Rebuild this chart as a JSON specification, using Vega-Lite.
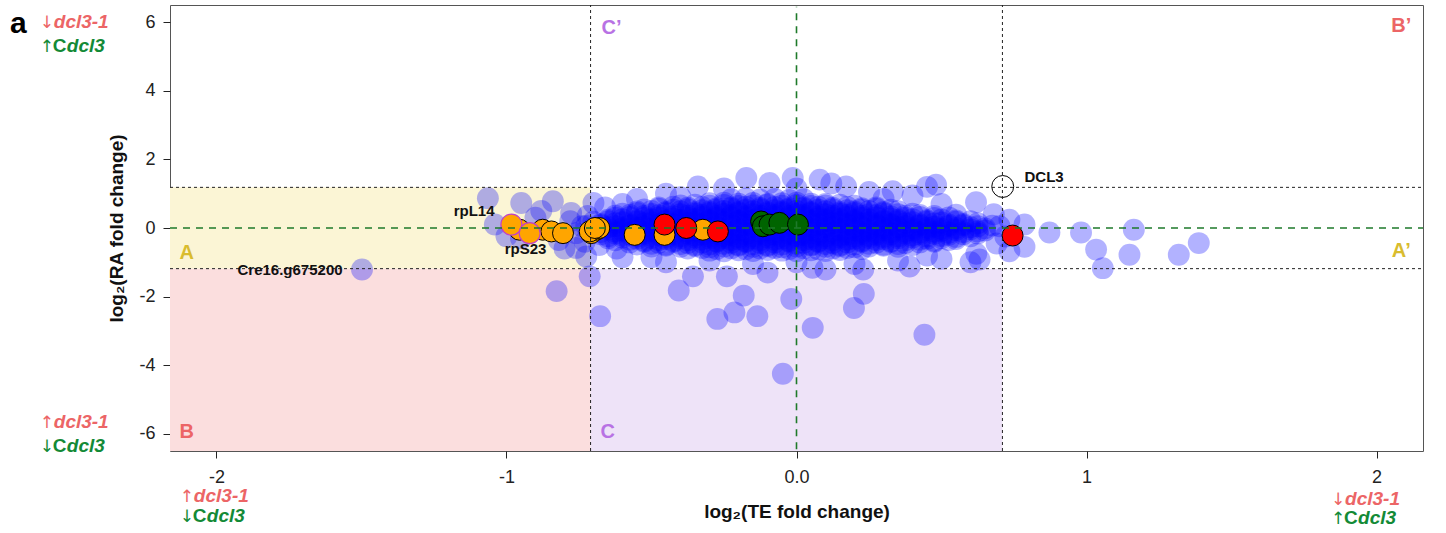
{
"$schema":"https://vega.github.io/schema/vega-lite/v6.json",
"width":1253,"height":446,
"autosize":{"type":"none"},
"padding":{"left":170,"top":5,"right":23,"bottom":82},
"config":{"view":{"stroke":"#555","strokeWidth":1},"font":"Liberation Sans","text":{"font":"Liberation Sans"}},
"datasets":{
"regions":[{"r":"A","x":-2.16,"x2":-0.71,"y":-1.185,"y2":1.185},{"r":"B","x":-2.16,"x2":-0.71,"y":-6.5,"y2":-1.185},{"r":"C","x":-0.71,"x2":0.71,"y":-6.5,"y2":-1.185}],
"blue":[
{"x":-0.3,"y":0.72},{"x":-0.25,"y":0.74},{"x":-0.2,"y":0.71},{"x":-0.15,"y":0.73},{"x":-0.1,"y":0.7},{"x":-0.05,"y":0.72},{"x":0,"y":0.74},{"x":0.05,"y":0.71},{"x":0.1,"y":0.7},
{"x":-0.475,"y":0.6},{"x":-0.425,"y":0.62},{"x":-0.375,"y":0.59},{"x":-0.325,"y":0.61},{"x":-0.275,"y":0.58},{"x":-0.225,"y":0.6},{"x":-0.175,"y":0.62},{"x":-0.125,"y":0.59},{"x":-0.075,"y":0.61},{"x":-0.025,"y":0.58},{"x":0.025,"y":0.6},{"x":0.075,"y":0.62},{"x":0.125,"y":0.59},{"x":0.175,"y":0.61},{"x":0.225,"y":0.58},{"x":0.275,"y":0.6},
{"x":-0.55,"y":0.48},{"x":-0.5,"y":0.5},{"x":-0.45,"y":0.47},{"x":-0.4,"y":0.49},{"x":-0.35,"y":0.46},{"x":-0.3,"y":0.48},{"x":-0.25,"y":0.5},{"x":-0.2,"y":0.47},{"x":-0.15,"y":0.49},{"x":-0.1,"y":0.46},{"x":-0.05,"y":0.48},{"x":0,"y":0.5},{"x":0.05,"y":0.47},{"x":0.1,"y":0.49},{"x":0.15,"y":0.46},{"x":0.2,"y":0.48},{"x":0.25,"y":0.5},{"x":0.3,"y":0.47},{"x":0.35,"y":0.49},
{"x":-0.625,"y":0.36},{"x":-0.575,"y":0.38},{"x":-0.525,"y":0.35},{"x":-0.475,"y":0.37},{"x":-0.425,"y":0.34},{"x":-0.375,"y":0.36},{"x":-0.325,"y":0.38},{"x":-0.275,"y":0.35},{"x":-0.225,"y":0.37},{"x":-0.175,"y":0.34},{"x":-0.125,"y":0.36},{"x":-0.075,"y":0.38},{"x":-0.025,"y":0.35},{"x":0.025,"y":0.37},{"x":0.075,"y":0.34},{"x":0.125,"y":0.36},{"x":0.175,"y":0.38},{"x":0.225,"y":0.35},{"x":0.275,"y":0.37},{"x":0.325,"y":0.34},{"x":0.375,"y":0.36},{"x":0.425,"y":0.38},{"x":0.475,"y":0.35},
{"x":-0.65,"y":0.24},{"x":-0.6,"y":0.26},{"x":-0.55,"y":0.23},{"x":-0.5,"y":0.25},{"x":-0.45,"y":0.22},{"x":-0.4,"y":0.24},{"x":-0.35,"y":0.26},{"x":-0.3,"y":0.23},{"x":-0.25,"y":0.25},{"x":-0.2,"y":0.22},{"x":-0.15,"y":0.24},{"x":-0.1,"y":0.26},{"x":-0.05,"y":0.23},{"x":0,"y":0.25},{"x":0.05,"y":0.22},{"x":0.1,"y":0.24},{"x":0.15,"y":0.26},{"x":0.2,"y":0.23},{"x":0.25,"y":0.25},{"x":0.3,"y":0.22},{"x":0.35,"y":0.24},{"x":0.4,"y":0.26},{"x":0.45,"y":0.23},{"x":0.5,"y":0.25},{"x":0.55,"y":0.22},
{"x":-0.675,"y":0.12},{"x":-0.625,"y":0.14},{"x":-0.575,"y":0.11},{"x":-0.525,"y":0.13},{"x":-0.475,"y":0.1},{"x":-0.425,"y":0.12},{"x":-0.375,"y":0.14},{"x":-0.325,"y":0.11},{"x":-0.275,"y":0.13},{"x":-0.225,"y":0.1},{"x":-0.175,"y":0.12},{"x":-0.125,"y":0.14},{"x":-0.075,"y":0.11},{"x":-0.025,"y":0.13},{"x":0.025,"y":0.1},{"x":0.075,"y":0.12},{"x":0.125,"y":0.14},{"x":0.175,"y":0.11},{"x":0.225,"y":0.13},{"x":0.275,"y":0.1},{"x":0.325,"y":0.12},{"x":0.375,"y":0.14},{"x":0.425,"y":0.11},{"x":0.475,"y":0.13},{"x":0.525,"y":0.1},{"x":0.575,"y":0.12},{"x":0.625,"y":0.14},
{"x":-0.7,"y":0},{"x":-0.65,"y":0.02},{"x":-0.6,"y":-0.01},{"x":-0.55,"y":0.01},{"x":-0.5,"y":-0.02},{"x":-0.45,"y":0},{"x":-0.4,"y":0.02},{"x":-0.35,"y":-0.01},{"x":-0.3,"y":0.01},{"x":-0.25,"y":-0.02},{"x":-0.2,"y":0},{"x":-0.15,"y":0.02},{"x":-0.1,"y":-0.01},{"x":-0.05,"y":0.01},{"x":0,"y":-0.02},{"x":0.05,"y":0},{"x":0.1,"y":0.02},{"x":0.15,"y":-0.01},{"x":0.2,"y":0.01},{"x":0.25,"y":-0.02},{"x":0.3,"y":0},{"x":0.35,"y":0.02},{"x":0.4,"y":-0.01},{"x":0.45,"y":0.01},{"x":0.5,"y":-0.02},{"x":0.55,"y":0},{"x":0.6,"y":0.02},{"x":0.65,"y":-0.01},
{"x":-0.675,"y":-0.12},{"x":-0.625,"y":-0.1},{"x":-0.575,"y":-0.13},{"x":-0.525,"y":-0.11},{"x":-0.475,"y":-0.14},{"x":-0.425,"y":-0.12},{"x":-0.375,"y":-0.1},{"x":-0.325,"y":-0.13},{"x":-0.275,"y":-0.11},{"x":-0.225,"y":-0.14},{"x":-0.175,"y":-0.12},{"x":-0.125,"y":-0.1},{"x":-0.075,"y":-0.13},{"x":-0.025,"y":-0.11},{"x":0.025,"y":-0.14},{"x":0.075,"y":-0.12},{"x":0.125,"y":-0.1},{"x":0.175,"y":-0.13},{"x":0.225,"y":-0.11},{"x":0.275,"y":-0.14},{"x":0.325,"y":-0.12},{"x":0.375,"y":-0.1},{"x":0.425,"y":-0.13},{"x":0.475,"y":-0.11},{"x":0.525,"y":-0.14},{"x":0.575,"y":-0.12},{"x":0.625,"y":-0.1},
{"x":-0.65,"y":-0.24},{"x":-0.6,"y":-0.22},{"x":-0.55,"y":-0.25},{"x":-0.5,"y":-0.23},{"x":-0.45,"y":-0.26},{"x":-0.4,"y":-0.24},{"x":-0.35,"y":-0.22},{"x":-0.3,"y":-0.25},{"x":-0.25,"y":-0.23},{"x":-0.2,"y":-0.26},{"x":-0.15,"y":-0.24},{"x":-0.1,"y":-0.22},{"x":-0.05,"y":-0.25},{"x":0,"y":-0.23},{"x":0.05,"y":-0.26},{"x":0.1,"y":-0.24},{"x":0.15,"y":-0.22},{"x":0.2,"y":-0.25},{"x":0.25,"y":-0.23},{"x":0.3,"y":-0.26},{"x":0.35,"y":-0.24},{"x":0.4,"y":-0.22},{"x":0.45,"y":-0.25},{"x":0.5,"y":-0.23},{"x":0.55,"y":-0.26},{"x":0.6,"y":-0.24},
{"x":-0.625,"y":-0.36},{"x":-0.575,"y":-0.34},{"x":-0.525,"y":-0.37},{"x":-0.475,"y":-0.35},{"x":-0.425,"y":-0.38},{"x":-0.375,"y":-0.36},{"x":-0.325,"y":-0.34},{"x":-0.275,"y":-0.37},{"x":-0.225,"y":-0.35},{"x":-0.175,"y":-0.38},{"x":-0.125,"y":-0.36},{"x":-0.075,"y":-0.34},{"x":-0.025,"y":-0.37},{"x":0.025,"y":-0.35},{"x":0.075,"y":-0.38},{"x":0.125,"y":-0.36},{"x":0.175,"y":-0.34},{"x":0.225,"y":-0.37},{"x":0.275,"y":-0.35},{"x":0.325,"y":-0.38},{"x":0.375,"y":-0.36},{"x":0.425,"y":-0.34},{"x":0.475,"y":-0.37},{"x":0.525,"y":-0.35},
{"x":-0.55,"y":-0.48},{"x":-0.5,"y":-0.46},{"x":-0.45,"y":-0.49},{"x":-0.4,"y":-0.47},{"x":-0.35,"y":-0.5},{"x":-0.3,"y":-0.48},{"x":-0.25,"y":-0.46},{"x":-0.2,"y":-0.49},{"x":-0.15,"y":-0.47},{"x":-0.1,"y":-0.5},{"x":-0.05,"y":-0.48},{"x":0,"y":-0.46},{"x":0.05,"y":-0.49},{"x":0.1,"y":-0.47},{"x":0.15,"y":-0.5},{"x":0.2,"y":-0.48},{"x":0.25,"y":-0.46},{"x":0.3,"y":-0.49},{"x":0.35,"y":-0.47},{"x":0.4,"y":-0.5},
{"x":-0.375,"y":-0.6},{"x":-0.325,"y":-0.58},{"x":-0.275,"y":-0.61},{"x":-0.225,"y":-0.59},{"x":-0.175,"y":-0.62},{"x":-0.125,"y":-0.6},{"x":-0.075,"y":-0.58},{"x":-0.025,"y":-0.61},{"x":0.025,"y":-0.59},{"x":0.075,"y":-0.62},{"x":0.125,"y":-0.6},{"x":0.175,"y":-0.58},{"x":0.225,"y":-0.61},
{"x":-1.064,"y":0.87},{"x":-0.949,"y":0.73},{"x":-1.04,"y":0.1},{"x":-1.0,"y":-0.24},{"x":-0.84,"y":0.78},{"x":-0.777,"y":0.44},{"x":-0.7,"y":0.73},{"x":-0.76,"y":-0.58},{"x":-0.9,"y":0.3},{"x":-0.82,"y":-0.35},{"x":-0.95,"y":-0.3},{"x":-0.73,"y":-0.4},{"x":-0.78,"y":0.2},{"x":-0.88,"y":0.5},{"x":-0.725,"y":-0.83},{"x":-0.8,"y":-0.6},{"x":-0.74,"y":0.05},{"x":-0.76,"y":-0.15},{"x":-0.72,"y":0.35},{"x":-0.66,"y":0.6},{"x":-0.62,"y":-0.6},{"x":-0.68,"y":-0.5},
{"x":-1.498,"y":-1.21},{"x":-0.713,"y":-1.41},{"x":-0.827,"y":-1.84},{"x":-0.677,"y":-2.57},{"x":-0.406,"y":-1.82},{"x":-0.357,"y":-1.41},{"x":-0.24,"y":-1.41},{"x":-0.182,"y":-1.97},{"x":-0.214,"y":-2.46},{"x":-0.273,"y":-2.65},{"x":-0.135,"y":-2.57},{"x":-0.018,"y":-2.07},{"x":0.056,"y":-2.91},{"x":-0.047,"y":-4.25},{"x":0.232,"y":-1.92},{"x":0.198,"y":-2.33},{"x":0.441,"y":-3.11},
{"x":-0.1,"y":-1.3},{"x":0.1,"y":-1.21},{"x":0.23,"y":-1.21},{"x":0.39,"y":-1.12},{"x":0.6,"y":-1.0},{"x":-0.45,"y":-1.0},{"x":0.055,"y":-1.16},{"x":-0.6,"y":-0.85},{"x":-0.3,"y":-0.95},{"x":-0.15,"y":-1.05},{"x":0.0,"y":-1.0},{"x":0.2,"y":-1.05},{"x":0.35,"y":-0.95},{"x":0.5,"y":-0.9},{"x":0.62,"y":-0.75},{"x":-0.5,"y":-0.85},{"x":0.45,"y":-0.8},
{"x":-0.173,"y":1.46},{"x":-0.013,"y":1.46},{"x":-0.093,"y":1.31},{"x":-0.34,"y":1.21},{"x":0.08,"y":1.41},{"x":0.171,"y":1.21},{"x":0.332,"y":1.07},{"x":0.481,"y":1.26},{"x":0.619,"y":0.75},{"x":-0.25,"y":1.15},{"x":-0.45,"y":1.0},{"x":-0.55,"y":0.85},{"x":0.0,"y":1.15},{"x":0.12,"y":1.3},{"x":0.25,"y":1.05},{"x":0.4,"y":0.95},{"x":0.5,"y":0.7},{"x":0.45,"y":1.2},{"x":-0.4,"y":0.9},{"x":-0.6,"y":0.7},{"x":0.3,"y":0.85},
{"x":0.55,"y":0.39},{"x":0.734,"y":0.24},{"x":0.786,"y":0.1},{"x":0.786,"y":-0.55},{"x":0.734,"y":-0.68},{"x":0.631,"y":-0.92},{"x":0.872,"y":-0.13},{"x":0.981,"y":-0.13},{"x":1.033,"y":-0.63},{"x":1.056,"y":-1.17},{"x":1.148,"y":-0.78},{"x":1.163,"y":-0.05},{"x":1.318,"y":-0.78},{"x":1.387,"y":-0.44},{"x":0.69,"y":-0.45},{"x":0.7,"y":0.05},{"x":0.68,"y":0.4},{"x":0.72,"y":-0.25}
],
"blue2":[
{"x":-0.225,"y":0.84},{"x":-0.175,"y":0.86},{"x":-0.125,"y":0.83},{"x":-0.075,"y":0.85},{"x":-0.025,"y":0.82},{"x":0.025,"y":0.84},
{"x":-0.4,"y":0.66},{"x":-0.35,"y":0.68},{"x":-0.3,"y":0.65},{"x":-0.25,"y":0.67},{"x":-0.2,"y":0.64},{"x":-0.15,"y":0.66},{"x":-0.1,"y":0.68},{"x":-0.05,"y":0.65},{"x":0,"y":0.67},{"x":0.05,"y":0.64},{"x":0.1,"y":0.66},{"x":0.15,"y":0.68},{"x":0.2,"y":0.65},
{"x":-0.525,"y":0.54},{"x":-0.475,"y":0.56},{"x":-0.425,"y":0.53},{"x":-0.375,"y":0.55},{"x":-0.325,"y":0.52},{"x":-0.275,"y":0.54},{"x":-0.225,"y":0.56},{"x":-0.175,"y":0.53},{"x":-0.125,"y":0.55},{"x":-0.075,"y":0.52},{"x":-0.025,"y":0.54},{"x":0.025,"y":0.56},{"x":0.075,"y":0.53},{"x":0.125,"y":0.55},{"x":0.175,"y":0.52},{"x":0.225,"y":0.54},{"x":0.275,"y":0.56},{"x":0.325,"y":0.53},
{"x":-0.6,"y":0.42},{"x":-0.55,"y":0.44},{"x":-0.5,"y":0.41},{"x":-0.45,"y":0.43},{"x":-0.4,"y":0.4},{"x":-0.35,"y":0.42},{"x":-0.3,"y":0.44},{"x":-0.25,"y":0.41},{"x":-0.2,"y":0.43},{"x":-0.15,"y":0.4},{"x":-0.1,"y":0.42},{"x":-0.05,"y":0.44},{"x":0,"y":0.41},{"x":0.05,"y":0.43},{"x":0.1,"y":0.4},{"x":0.15,"y":0.42},{"x":0.2,"y":0.44},{"x":0.25,"y":0.41},{"x":0.3,"y":0.43},{"x":0.35,"y":0.4},{"x":0.4,"y":0.42},
{"x":-0.625,"y":0.3},{"x":-0.575,"y":0.32},{"x":-0.525,"y":0.29},{"x":-0.475,"y":0.31},{"x":-0.425,"y":0.28},{"x":-0.375,"y":0.3},{"x":-0.325,"y":0.32},{"x":-0.275,"y":0.29},{"x":-0.225,"y":0.31},{"x":-0.175,"y":0.28},{"x":-0.125,"y":0.3},{"x":-0.075,"y":0.32},{"x":-0.025,"y":0.29},{"x":0.025,"y":0.31},{"x":0.075,"y":0.28},{"x":0.125,"y":0.3},{"x":0.175,"y":0.32},{"x":0.225,"y":0.29},{"x":0.275,"y":0.31},{"x":0.325,"y":0.28},{"x":0.375,"y":0.3},{"x":0.425,"y":0.32},{"x":0.475,"y":0.29},{"x":0.525,"y":0.31},
{"x":-0.7,"y":0.18},{"x":-0.65,"y":0.2},{"x":-0.6,"y":0.17},{"x":-0.55,"y":0.19},{"x":-0.5,"y":0.16},{"x":-0.45,"y":0.18},{"x":-0.4,"y":0.2},{"x":-0.35,"y":0.17},{"x":-0.3,"y":0.19},{"x":-0.25,"y":0.16},{"x":-0.2,"y":0.18},{"x":-0.15,"y":0.2},{"x":-0.1,"y":0.17},{"x":-0.05,"y":0.19},{"x":0,"y":0.16},{"x":0.05,"y":0.18},{"x":0.1,"y":0.2},{"x":0.15,"y":0.17},{"x":0.2,"y":0.19},{"x":0.25,"y":0.16},{"x":0.3,"y":0.18},{"x":0.35,"y":0.2},{"x":0.4,"y":0.17},{"x":0.45,"y":0.19},{"x":0.5,"y":0.16},{"x":0.55,"y":0.18},{"x":0.6,"y":0.2},
{"x":-0.725,"y":0.06},{"x":-0.675,"y":0.08},{"x":-0.625,"y":0.05},{"x":-0.575,"y":0.07},{"x":-0.525,"y":0.04},{"x":-0.475,"y":0.06},{"x":-0.425,"y":0.08},{"x":-0.375,"y":0.05},{"x":-0.325,"y":0.07},{"x":-0.275,"y":0.04},{"x":-0.225,"y":0.06},{"x":-0.175,"y":0.08},{"x":-0.125,"y":0.05},{"x":-0.075,"y":0.07},{"x":-0.025,"y":0.04},{"x":0.025,"y":0.06},{"x":0.075,"y":0.08},{"x":0.125,"y":0.05},{"x":0.175,"y":0.07},{"x":0.225,"y":0.04},{"x":0.275,"y":0.06},{"x":0.325,"y":0.08},{"x":0.375,"y":0.05},{"x":0.425,"y":0.07},{"x":0.475,"y":0.04},{"x":0.525,"y":0.06},{"x":0.575,"y":0.08},{"x":0.625,"y":0.05},{"x":0.675,"y":0.07},
{"x":-0.7,"y":-0.06},{"x":-0.65,"y":-0.04},{"x":-0.6,"y":-0.07},{"x":-0.55,"y":-0.05},{"x":-0.5,"y":-0.08},{"x":-0.45,"y":-0.06},{"x":-0.4,"y":-0.04},{"x":-0.35,"y":-0.07},{"x":-0.3,"y":-0.05},{"x":-0.25,"y":-0.08},{"x":-0.2,"y":-0.06},{"x":-0.15,"y":-0.04},{"x":-0.1,"y":-0.07},{"x":-0.05,"y":-0.05},{"x":0,"y":-0.08},{"x":0.05,"y":-0.06},{"x":0.1,"y":-0.04},{"x":0.15,"y":-0.07},{"x":0.2,"y":-0.05},{"x":0.25,"y":-0.08},{"x":0.3,"y":-0.06},{"x":0.35,"y":-0.04},{"x":0.4,"y":-0.07},{"x":0.45,"y":-0.05},{"x":0.5,"y":-0.08},{"x":0.55,"y":-0.06},{"x":0.6,"y":-0.04},{"x":0.65,"y":-0.07},
{"x":-0.675,"y":-0.18},{"x":-0.625,"y":-0.16},{"x":-0.575,"y":-0.19},{"x":-0.525,"y":-0.17},{"x":-0.475,"y":-0.2},{"x":-0.425,"y":-0.18},{"x":-0.375,"y":-0.16},{"x":-0.325,"y":-0.19},{"x":-0.275,"y":-0.17},{"x":-0.225,"y":-0.2},{"x":-0.175,"y":-0.18},{"x":-0.125,"y":-0.16},{"x":-0.075,"y":-0.19},{"x":-0.025,"y":-0.17},{"x":0.025,"y":-0.2},{"x":0.075,"y":-0.18},{"x":0.125,"y":-0.16},{"x":0.175,"y":-0.19},{"x":0.225,"y":-0.17},{"x":0.275,"y":-0.2},{"x":0.325,"y":-0.18},{"x":0.375,"y":-0.16},{"x":0.425,"y":-0.19},{"x":0.475,"y":-0.17},{"x":0.525,"y":-0.2},{"x":0.575,"y":-0.18},{"x":0.625,"y":-0.16},
{"x":-0.65,"y":-0.3},{"x":-0.6,"y":-0.28},{"x":-0.55,"y":-0.31},{"x":-0.5,"y":-0.29},{"x":-0.45,"y":-0.32},{"x":-0.4,"y":-0.3},{"x":-0.35,"y":-0.28},{"x":-0.3,"y":-0.31},{"x":-0.25,"y":-0.29},{"x":-0.2,"y":-0.32},{"x":-0.15,"y":-0.3},{"x":-0.1,"y":-0.28},{"x":-0.05,"y":-0.31},{"x":0,"y":-0.29},{"x":0.05,"y":-0.32},{"x":0.1,"y":-0.3},{"x":0.15,"y":-0.28},{"x":0.2,"y":-0.31},{"x":0.25,"y":-0.29},{"x":0.3,"y":-0.32},{"x":0.35,"y":-0.3},{"x":0.4,"y":-0.28},{"x":0.45,"y":-0.31},{"x":0.5,"y":-0.29},{"x":0.55,"y":-0.32},
{"x":-0.575,"y":-0.42},{"x":-0.525,"y":-0.4},{"x":-0.475,"y":-0.43},{"x":-0.425,"y":-0.41},{"x":-0.375,"y":-0.44},{"x":-0.325,"y":-0.42},{"x":-0.275,"y":-0.4},{"x":-0.225,"y":-0.43},{"x":-0.175,"y":-0.41},{"x":-0.125,"y":-0.44},{"x":-0.075,"y":-0.42},{"x":-0.025,"y":-0.4},{"x":0.025,"y":-0.43},{"x":0.075,"y":-0.41},{"x":0.125,"y":-0.44},{"x":0.175,"y":-0.42},{"x":0.225,"y":-0.4},{"x":0.275,"y":-0.43},{"x":0.325,"y":-0.41},{"x":0.375,"y":-0.44},{"x":0.425,"y":-0.42},{"x":0.475,"y":-0.4},
{"x":-0.5,"y":-0.54},{"x":-0.45,"y":-0.52},{"x":-0.4,"y":-0.55},{"x":-0.35,"y":-0.53},{"x":-0.3,"y":-0.56},{"x":-0.25,"y":-0.54},{"x":-0.2,"y":-0.52},{"x":-0.15,"y":-0.55},{"x":-0.1,"y":-0.53},{"x":-0.05,"y":-0.56},{"x":0,"y":-0.54},{"x":0.05,"y":-0.52},{"x":0.1,"y":-0.55},{"x":0.15,"y":-0.53},{"x":0.2,"y":-0.56},{"x":0.25,"y":-0.54},{"x":0.3,"y":-0.52},{"x":0.35,"y":-0.55},
{"x":-0.3,"y":-0.66},{"x":-0.25,"y":-0.68},{"x":-0.2,"y":-0.65},{"x":-0.15,"y":-0.67},{"x":-0.1,"y":-0.64},{"x":-0.05,"y":-0.66},{"x":0,"y":-0.68},{"x":0.05,"y":-0.65},{"x":0.1,"y":-0.67},{"x":0.15,"y":-0.64}
],
"hl":[
{"c":"o","x":-0.955,"y":-0.05},{"c":"o","x":-0.875,"y":-0.05},{"c":"o","x":-0.845,"y":-0.1},{"c":"o","x":-0.805,"y":-0.15},{"c":"o","x":-0.708,"y":-0.15},{"c":"o","x":-0.69,"y":-0.05},{"c":"o","x":-0.68,"y":0.0},{"c":"o","x":-0.713,"y":-0.1},{"c":"o","x":-0.695,"y":0.0},{"c":"o","x":-0.558,"y":-0.2},{"c":"o","x":-0.455,"y":-0.2},{"c":"o","x":-0.323,"y":-0.05},
{"c":"r","x":-0.455,"y":0.1},{"c":"r","x":-0.38,"y":0.0},{"c":"r","x":-0.271,"y":-0.1},{"c":"r","x":0.745,"y":-0.22},
{"c":"g","x":-0.122,"y":0.19},{"c":"g","x":-0.116,"y":0.05},{"c":"g","x":-0.093,"y":0.1},{"c":"g","x":-0.059,"y":0.15},{"c":"g","x":0.005,"y":0.1}
],
"lab":[{"x":-0.983,"y":0.1},{"x":-0.92,"y":-0.15}],
"dots":[{"x":-0.71,"y":-6.5,"x2":-0.71,"y2":6.5},{"x":0.71,"y":-6.5,"x2":0.71,"y2":6.5},{"x":-2.16,"y":1.185,"x2":2.16,"y2":1.185},{"x":-2.16,"y":-1.185,"x2":2.16,"y2":-1.185}],
"greens":[{"x":0,"y":-6.45,"x2":0,"y2":6.45},{"x":-2.16,"y":0,"x2":2.16,"y2":0}],
"rlab":[{"t":"A","c":"A","x":-2.102,"y":-0.72},{"t":"A’","c":"A","x":2.085,"y":-0.66},{"t":"B","c":"B","x":-2.102,"y":-5.94},{"t":"B’","c":"B","x":2.085,"y":5.89},{"t":"C","c":"C","x":-0.651,"y":-5.94},{"t":"C’","c":"C","x":-0.638,"y":5.83}],
"plabR":[{"t":"rpL14","x":-1.041,"y":0.5},{"t":"Cre16.g675200","x":-1.565,"y":-1.21}],
"plabL":[{"t":"rpS23","x":-1.006,"y":-0.6},{"t":"DCL3","x":0.786,"y":1.48}],
"ann":[{"x":-2.609,"y":5.835,"l":1,"a":"↓"},{"x":-2.609,"y":5.136,"l":2,"a":"↑"},{"x":-2.609,"y":-5.817,"l":1,"a":"↑"},{"x":-2.609,"y":-6.516,"l":2,"a":"↓"},{"x":-2.126,"y":-8.0,"l":1,"a":"↑"},{"x":-2.126,"y":-8.58,"l":2,"a":"↓"},{"x":1.843,"y":-8.06,"l":1,"a":"↓"},{"x":1.843,"y":-8.62,"l":2,"a":"↑"}],
"panel":[{"t":"a","x":-2.712,"y":5.69}]
},
"encoding":{
"x":{"field":"x","type":"quantitative","scale":{"domain":[-2.16,2.16],"nice":false,"zero":false},
"axis":{"title":"log₂(TE fold change)","values":[-2,-1,0,1,2],"labelExpr":"datum.value == 0 ? '0.0' : '' + datum.value","grid":false,"domain":false,"ticks":true,"tickColor":"#222","tickSize":7,"labelFontSize":18,"labelColor":"#222","labelPadding":10,"labelFont":"Liberation Sans","titleFont":"Liberation Sans","titleFontSize":19,"titleFontWeight":"bold","titleColor":"#111","titlePadding":16}},
"y":{"field":"y","type":"quantitative","scale":{"domain":[-6.5,6.5],"nice":false,"zero":false},
"axis":{"title":"log₂(RA fold change)","values":[-6,-4,-2,0,2,4,6],"labelExpr":"'' + datum.value","grid":false,"domain":false,"tickColor":"#222","tickSize":7,"labelFontSize":18,"labelColor":"#222","labelPadding":8,"labelFont":"Liberation Sans","titleFont":"Liberation Sans","titleFontSize":19,"titleFontWeight":"bold","titleColor":"#111","titlePadding":12}}
},
"layer":[
{"data":{"name":"regions"},"mark":{"type":"rect"},"encoding":{"x2":{"field":"x2"},"y2":{"field":"y2"},"fill":{"field":"r","type":"nominal","scale":{"domain":["A","B","C"],"range":["#FBF5D5","#FBDEDE","#EEE3F8"]},"legend":null}}},
{"data":{"name":"blue"},"mark":{"type":"circle","color":"#0000FF","opacity":0.3,"size":480}},
{"data":{"name":"blue2"},"mark":{"type":"circle","color":"#0000FF","opacity":0.3,"size":480}},
{"data":{"name":"hl"},"mark":{"type":"circle","size":440,"opacity":1,"stroke":"#000","strokeWidth":1},"encoding":{"color":{"field":"c","type":"nominal","scale":{"domain":["o","r","g","A","B","C"],"range":["#FFA500","#FF0000","#006400","#D9BC2E","#EC6566","#B872E4"]},"legend":null}}},
{"data":{"name":"lab"},"mark":{"type":"circle","size":440,"color":"#FFA500","opacity":1,"stroke":"#C040C8","strokeWidth":1.2}},
{"data":{"values":[{"x":0.711,"y":1.21}]},"mark":{"type":"point","shape":"circle","filled":false,"size":480,"stroke":"#000","strokeWidth":1,"opacity":1}},
{"data":{"name":"dots"},"mark":{"type":"rule","color":"#222","strokeWidth":1,"strokeDash":[3,3]},"encoding":{"x2":{"field":"x2"},"y2":{"field":"y2"}}},
{"data":{"name":"greens"},"mark":{"type":"rule","color":"#1E7A2A","strokeWidth":1.6,"strokeDash":[7,6]},"encoding":{"x2":{"field":"x2"},"y2":{"field":"y2"}}},
{"data":{"name":"rlab"},"mark":{"type":"text","fontSize":20,"fontWeight":"bold","align":"center","baseline":"middle"},"encoding":{"text":{"field":"t"},"color":{"field":"c","type":"nominal","scale":{"domain":["o","r","g","A","B","C"],"range":["#FFA500","#FF0000","#006400","#D9BC2E","#EC6566","#B872E4"]},"legend":null}}},
{"data":{"name":"plabR"},"mark":{"type":"text","fontSize":15,"fontWeight":"bold","align":"right","baseline":"middle","color":"#111"},"encoding":{"text":{"field":"t"}}},
{"data":{"name":"plabL"},"mark":{"type":"text","fontSize":15,"fontWeight":"bold","align":"left","baseline":"middle","color":"#111"},"encoding":{"text":{"field":"t"}}},
{"data":{"name":"panel"},"mark":{"type":"text","fontSize":30,"fontWeight":"bold","align":"left","baseline":"alphabetic","color":"#000"},"encoding":{"text":{"field":"t"}}},
{"data":{"name":"ann"},"transform":[{"filter":"datum.l == 1"}],"mark":{"type":"text","fontSize":17,"align":"left","baseline":"alphabetic","color":"#EC6566","font":"DejaVu Sans"},"encoding":{"text":{"field":"a"}}},
{"data":{"name":"ann"},"transform":[{"filter":"datum.l == 2"}],"mark":{"type":"text","fontSize":17,"align":"left","baseline":"alphabetic","color":"#138A36","font":"DejaVu Sans"},"encoding":{"text":{"field":"a"}}},
{"data":{"name":"ann"},"transform":[{"filter":"datum.l == 1"}],"mark":{"type":"text","fontSize":19,"fontWeight":"bold","fontStyle":"italic","align":"left","baseline":"alphabetic","color":"#EC6566","dx":14,"text":"dcl3-1"},"encoding":{}},
{"data":{"name":"ann"},"transform":[{"filter":"datum.l == 2"}],"mark":{"type":"text","fontSize":19,"fontWeight":"bold","align":"left","baseline":"alphabetic","color":"#138A36","dx":13,"text":"C"},"encoding":{}},
{"data":{"name":"ann"},"transform":[{"filter":"datum.l == 2"}],"mark":{"type":"text","fontSize":19,"fontWeight":"bold","fontStyle":"italic","align":"left","baseline":"alphabetic","color":"#138A36","dx":27,"text":"dcl3"},"encoding":{}}
]
}
